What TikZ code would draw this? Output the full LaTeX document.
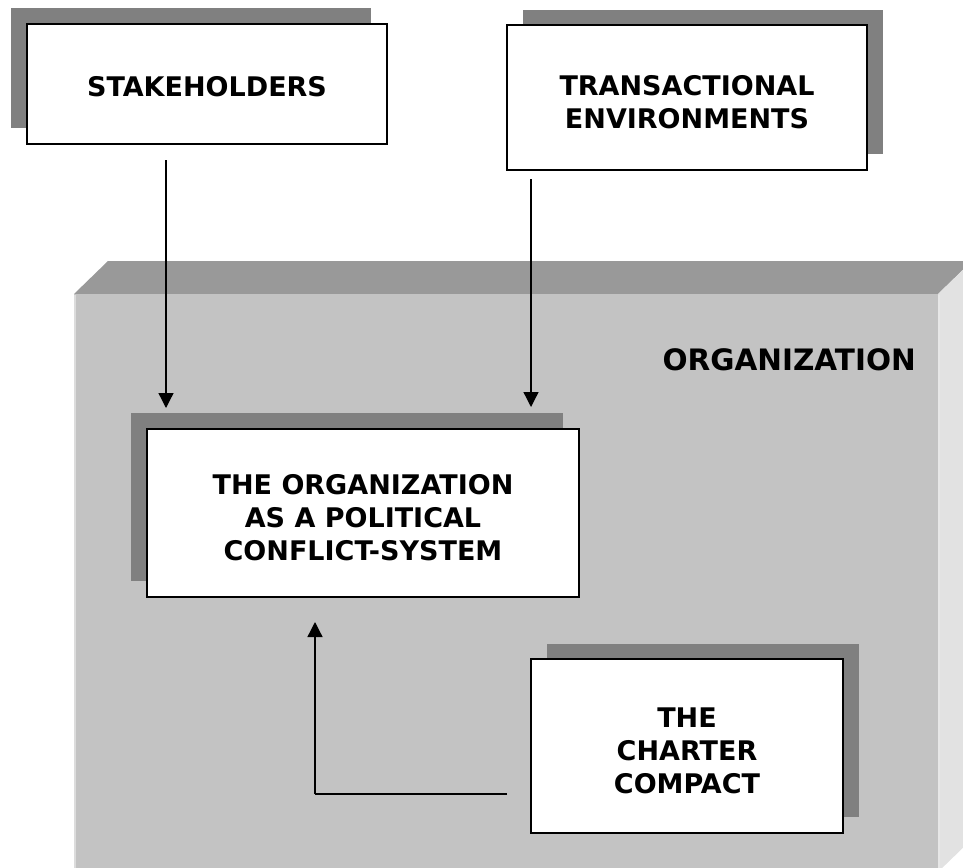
\documentclass[tikz,border=0pt]{standalone}
\usepackage{fontspec}
\setmainfont{DejaVu Sans}
\usetikzlibrary{arrows.meta}
\definecolor{shadowgray}{HTML}{808080}
\definecolor{topgray}{HTML}{999999}
\definecolor{frontgray}{HTML}{C3C3C3}
\definecolor{sidegray}{HTML}{E2E2E2}
\definecolor{edgegray}{HTML}{DCDCDC}
\tikzset{
  whitebox/.style={draw=black, line width=1.7pt, fill=white, inner sep=0pt},
  boxtext/.style={align=center, inner sep=0pt, yshift=-5pt,
    font=\fontsize{27}{33}\selectfont\bfseries},
  arr/.style={line width=1.3pt, -{Triangle[width=15pt,length=15pt]}},
  plain/.style={line width=1.3pt},
  lbl/.style={font=\fontsize{29.5}{35}\selectfont\bfseries, inner sep=0pt}
}
\begin{document}
\begin{tikzpicture}[x=1pt,y=-1pt]
\useasboundingbox (0,0) rectangle (963,867);
\begin{scope}
\clip (0,0) rectangle (963,867);
% organization 3D box
\fill[topgray] (74,294) -- (108,261) -- (972,261) -- (938,294) -- cycle;
\fill[sidegray] (938,294) -- (972,261) -- (972,839) -- (938,872) -- cycle;
\fill[frontgray] (74,294) rectangle (938,872);
\draw[edgegray, line width=2pt] (75,295) -- (75,872);
\draw[edgegray!70!white, line width=1.5pt] (939,295) -- (939,872);
\end{scope}
\node[lbl, anchor=east] (orglbl) at (916,360) {ORGANIZATION};

% shadows
\fill[shadowgray] (11,8) rectangle (371,128);
\fill[shadowgray] (523,10) rectangle (883,154);
\fill[shadowgray] (131,413) rectangle (563,581);
\fill[shadowgray] (547,644) rectangle (859,817);

% white boxes
\node[whitebox, minimum width=360pt, minimum height=120pt,
  label={[boxtext, yshift=2pt]center:STAKEHOLDERS}] (stake) at (207,84) {};
\node[whitebox, minimum width=360pt, minimum height=145pt,
  label={[boxtext]center:TRANSACTIONAL\\ENVIRONMENTS}] (trans) at (687,97.5) {};
\node[whitebox, minimum width=432pt, minimum height=168pt,
  label={[boxtext]center:THE ORGANIZATION\\AS A POLITICAL\\CONFLICT-SYSTEM}] (inner) at (363,513) {};
\node[whitebox, minimum width=312pt, minimum height=174pt,
  label={[boxtext]center:THE\\CHARTER\\COMPACT}] (charter) at (687,746) {};

% connectors
\coordinate (s1) at (166,160);
\coordinate (e1) at (166,408);
\coordinate (s2) at (531,179);
\coordinate (e2) at (531,407);
\coordinate (s3) at (507,794);
\coordinate (c3) at (315,794);
\coordinate (e3) at (315,622);
\draw[arr] (s1) -- (e1);
\draw[arr] (s2) -- (e2);
\draw[plain] (s3) -- (c3);
\draw[arr] (c3) -- (e3);
\end{tikzpicture}
\end{document}
